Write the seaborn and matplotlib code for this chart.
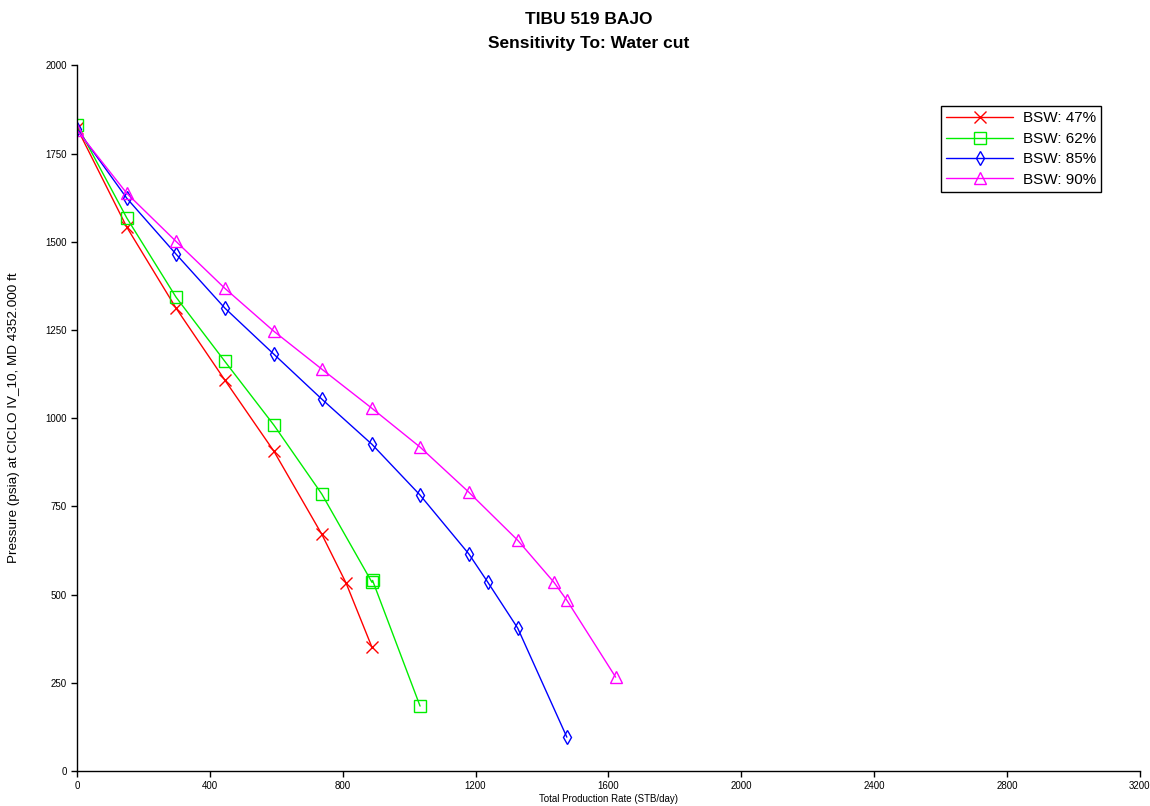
import matplotlib
matplotlib.use('Agg')
import matplotlib.pyplot as plt
import seaborn as sns
import pandas as pd

rate_47 = [0, 150, 298, 445, 593, 737, 810, 888]
pres_47 = [1822, 1541, 1312, 1108, 906, 671, 533, 351]

rate_62 = [0, 150, 298, 445, 593, 737, 888, 890, 1033]
pres_62 = [1830, 1567, 1343, 1161, 980, 785, 535, 540, 184]

rate_85 = [0, 150, 298, 445, 593, 737, 888, 1033, 1180, 1237, 1327, 1475]
pres_85 = [1819, 1623, 1465, 1312, 1181, 1054, 926, 782, 615, 535, 405, 96]

rate_90 = [0, 150, 298, 445, 593, 737, 888, 1033, 1180, 1327, 1436, 1475, 1622]
pres_90 = [1816, 1637, 1501, 1368, 1246, 1139, 1028, 918, 790, 654, 535, 484, 266]

labels = ['BSW: 47%', 'BSW: 62%', 'BSW: 85%', 'BSW: 90%']
x_ticks = [0, 400, 800, 1200, 1600, 2000, 2400, 2800, 3200]
y_ticks = [0, 250, 500, 750, 1000, 1250, 1500, 1750, 2000]

series = [(rate_47, pres_47), (rate_62, pres_62), (rate_85, pres_85), (rate_90, pres_90)]
colors = ['#ff0000', '#00ee00', '#0000ff', '#ff00ff']
markers = ['x', 's', 'd', '^']
msizes = [9, 9, 7.5, 9]

sns.set_style('white')
plt.rcParams['font.family'] = ['Liberation Sans', 'DejaVu Sans']
plt.rcParams['text.color'] = 'black'
plt.rcParams['axes.labelcolor'] = 'black'
plt.rcParams['xtick.color'] = 'black'
plt.rcParams['ytick.color'] = 'black'

fig = plt.figure(figsize=(11.5, 8.06), dpi=100)
ax = fig.add_axes([0.067, 0.0434, 0.924, 0.8756])

for (xs, ys), lab, c, m, ms in zip(series, labels, colors, markers, msizes):
    df = pd.DataFrame({'rate': xs, 'pressure': ys})
    sns.lineplot(data=df, x='rate', y='pressure', ax=ax, color=c, marker=m,
                 markersize=ms, markerfacecolor='none', markeredgecolor=c,
                 markeredgewidth=1.0, linewidth=1.0, estimator=None, sort=False,
                 label=lab)

ax.set_xlim(0, 3200)
ax.set_ylim(0, 2000)
ax.set_xticks(x_ticks)
ax.set_yticks(y_ticks)
ax.tick_params(axis='both', labelsize=7, direction='out', length=4, width=1,
               color='black', bottom=True, left=True)
for side in ['top', 'right']:
    ax.spines[side].set_visible(False)
for side in ['left', 'bottom']:
    ax.spines[side].set_color('black')
    ax.spines[side].set_linewidth(1.0)

ax.set_xlabel('Total Production Rate (STB/day)', fontsize=7, labelpad=2)
ax.set_ylabel('Pressure (psia) at CICLO IV_10, MD 4352.000 ft', fontsize=9.7, labelpad=18)
fig.suptitle('TIBU 519 BAJO\nSensitivity To: Water cut', fontsize=12.5, fontweight='bold',
             x=0.512, y=0.985, va='top', linespacing=1.75)

leg = ax.legend(loc='upper right', bbox_to_anchor=(0.971, 0.953), fontsize=11,
                frameon=True, fancybox=False, edgecolor='black', framealpha=1,
                handlelength=4.4, borderpad=0.35, labelspacing=0.42, handletextpad=0.6)
leg.get_frame().set_linewidth(1.0)

fig.savefig('out.png', dpi=100)
